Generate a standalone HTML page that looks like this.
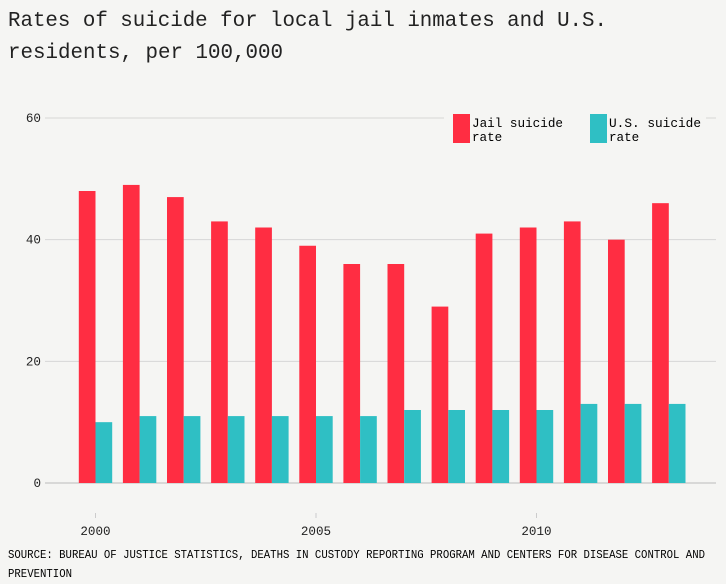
<!DOCTYPE html>
<html><head><meta charset="utf-8"><style>
body{margin:0;background:#f5f5f3;width:726px;height:584px;overflow:hidden;font-family:"Liberation Mono",monospace;color:#222}
svg{display:block}
svg text{font-family:"Liberation Mono",monospace}
</style></head><body>
<svg width="726" height="584">
<text x="8" y="26" font-size="20.8" fill="#222" textLength="599" lengthAdjust="spacingAndGlyphs">Rates of suicide for local jail inmates and U.S.</text>
<text x="8" y="58" font-size="20.8" fill="#222" textLength="275" lengthAdjust="spacingAndGlyphs">residents, per 100,000</text>
<g id="grid"></g><g id="bars"></g><g id="xaxis"></g>
<g>
<rect x="453" y="114" width="17" height="29" fill="#ff2d42"/>
<text font-size="12.6"><tspan x="472" y="127" textLength="91" lengthAdjust="spacingAndGlyphs">Jail suicide</tspan><tspan x="472" y="141">rate</tspan></text>
<rect x="590" y="114" width="17" height="29" fill="#2fbfc4"/>
<text font-size="12.6"><tspan x="609" y="127" textLength="92" lengthAdjust="spacingAndGlyphs">U.S. suicide</tspan><tspan x="609" y="141">rate</tspan></text>
</g>
<text font-size="12"><tspan x="8" y="558" textLength="697" lengthAdjust="spacingAndGlyphs">SOURCE: BUREAU OF JUSTICE STATISTICS, DEATHS IN CUSTODY REPORTING PROGRAM AND CENTERS FOR DISEASE CONTROL AND</tspan><tspan x="8" y="577" textLength="64" lengthAdjust="spacingAndGlyphs">PREVENTION</tspan></text>
</svg>
<script>
const years=[2000,2001,2002,2003,2004,2005,2006,2007,2008,2009,2010,2011,2012,2013];
const jail=[48,49,47,43,42,39,36,36,29,41,42,43,40,46];
const us=[10,11,11,11,11,11,11,12,12,12,12,13,13,13];
const yTicks=[0,20,40,60];
const xTicks=[2000,2005,2010];
const NS="http://www.w3.org/2000/svg";
const y=v=>483-v*365/60;
const x=yr=>95.5+(yr-2000)*44.1;
function mk(t,a,p){const e=document.createElementNS(NS,t);for(const k in a)e.setAttribute(k,a[k]);p.appendChild(e);return e;}
const grid=document.getElementById('grid');
yTicks.forEach(v=>{
 const ln=mk('line',{x1:45,x2:716,y1:y(v),y2:y(v),stroke:v===0?'#bbb':'#d6d6d6','stroke-width':1},grid);
 
 
 const t=mk('text',{x:41,y:y(v)+4,'font-size':12.6,'text-anchor':'end',fill:'#222'},grid);
 t.textContent=v;
 
 
});
const bars=document.getElementById('bars');
years.forEach((yr,i)=>{
 const r=mk('rect',{x:x(yr)-16.7,y:y(jail[i]),width:16.7,height:483-y(jail[i]),fill:'#ff2d42'},bars);
 
 
 const b=mk('rect',{x:x(yr),y:y(us[i]),width:16.7,height:483-y(us[i]),fill:'#2fbfc4'},bars);
 
 
});
const xa=document.getElementById('xaxis');
xTicks.forEach(yr=>{
 const l=mk('line',{x1:x(yr),x2:x(yr),y1:513,y2:518,stroke:'#ccc'},xa);
 
 
 const t=mk('text',{x:x(yr),y:535,'font-size':12.6,'text-anchor':'middle',fill:'#222'},xa);
 t.textContent=yr;
 
 
});
const m=mk('rect',{x:444,y:110,width:262,height:14,fill:'#f5f5f3'},grid);


</script>
</body></html>
